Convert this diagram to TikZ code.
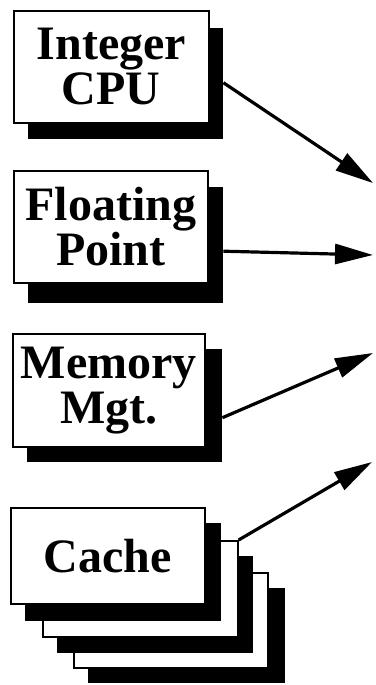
\documentclass[tikz,border=0pt]{standalone}
\usepackage{fontspec}
\setmainfont{Liberation Serif}
\usetikzlibrary{arrows.meta,calc}
\begin{document}
\begin{tikzpicture}[x=1pt,y=-1pt,
  card/.style={draw=black, fill=white, line width=1.6pt, inner sep=0pt,
    anchor=north west, align=center,
    font=\bfseries\fontsize{48}{45}\selectfont},
  shade/.style={fill=black, draw=none, inner sep=0pt, anchor=north west},
  link/.style={line width=3.2pt, -{Triangle[length=38pt,width=20pt]}}]
\useasboundingbox (0,0) rectangle (375,685);

% Integer CPU
\node[shade, minimum width=195pt, minimum height=111pt] (cpushadow) at (28,28) {};
\node[card, minimum width=195pt, minimum height=112pt] (cpu) at (13,10) {Integer\\CPU};

% Floating Point
\node[shade, minimum width=195pt, minimum height=116pt] (fpushadow) at (28,187) {};
\node[card, minimum width=194pt, minimum height=112pt] (fpu) at (13,170) {Floating\\Point};

% Memory management
\node[shade, minimum width=195pt, minimum height=113pt] (mmushadow) at (27,349) {};
\node[card, minimum width=192pt, minimum height=113pt] (mmu) at (12,333) {Memory\\Mgt.};

% Cache: a stack of three cards, back to front
\node[shade, minimum width=197pt, minimum height=95pt] (cacheshadowc) at (88,588) {};
\node[card, minimum width=194pt, minimum height=95pt] (cachec) at (73,572) {};
\node[shade, minimum width=196pt, minimum height=97pt] (cacheshadowb) at (57,556) {};
\node[card, minimum width=195pt, minimum height=96pt] (cacheb) at (42,540) {};
\node[shade, minimum width=196pt, minimum height=98pt] (cacheshadowa) at (25,523) {};
\node[card, minimum width=194pt, minimum height=96pt] (cache) at (10,507) {Cache};

% Arrow end points on the right edge
\coordinate (t1) at (373,183);
\coordinate (t2) at (373,255);
\coordinate (t3) at (373,353);
\coordinate (t4) at (372,462);

\draw[link] ([yshift=1pt]cpushadow.east) -- (t1);
\draw[link] ([yshift=-6pt]fpushadow.east) -- (t2);
\draw[link] ([yshift=-12pt]mmushadow.east) -- (t3);
\draw[link] (cacheb.north east) -- (t4);
\end{tikzpicture}
\end{document}
